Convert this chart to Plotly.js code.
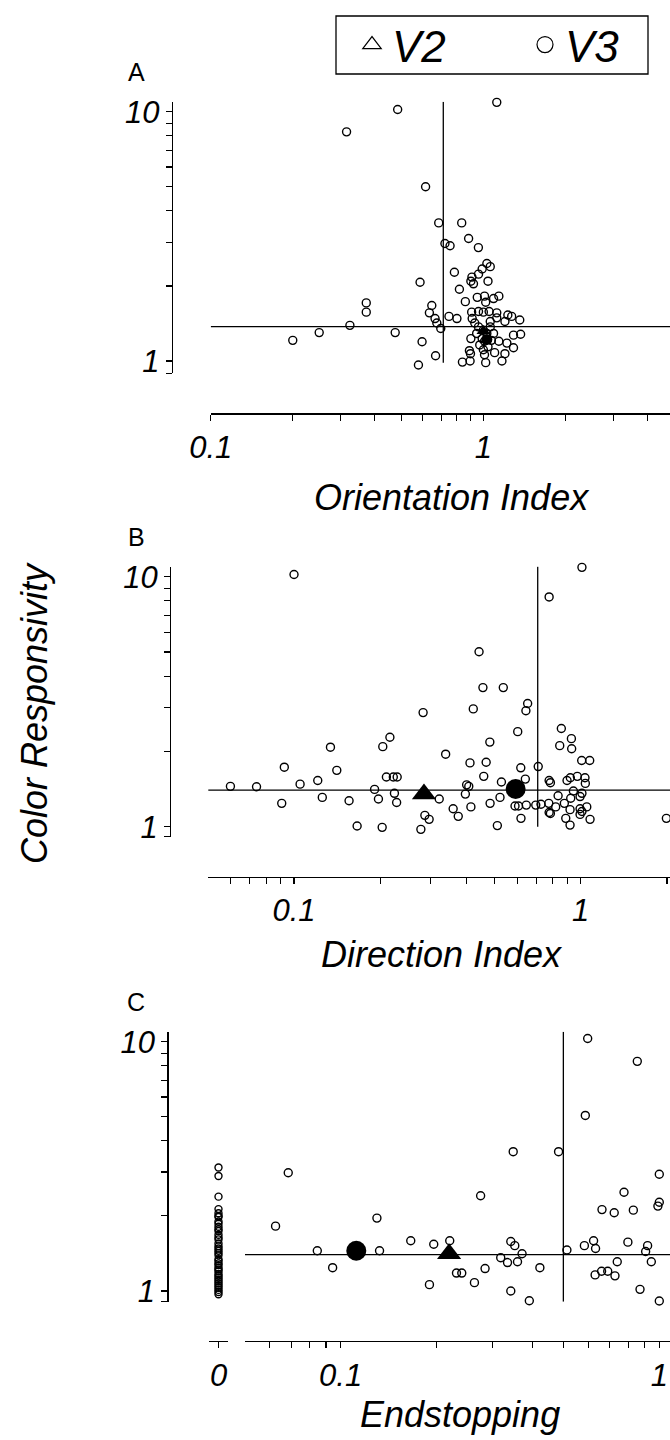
<!DOCTYPE html>
<html><head><meta charset="utf-8">
<script src="https://cdn.plot.ly/plotly-3.0.1.min.js"></script>
<style>html,body{margin:0;padding:0;background:#fff;overflow:hidden}#chart{width:670px;height:1440px}</style>
</head><body><div id="chart"></div>
<script>
// ---------- Panel A: Orientation Index vs Color Responsivity ----------
const aX = [1.12,0.485,0.315,0.614,0.686,0.833,0.883,0.723,0.755,0.959,
  1.03,1.06,0.99,0.96,0.783,0.908,0.90,0.92,1.04,0.586,
  0.817,0.859,0.95,1.01,1.02,1.09,1.14,0.372,0.372,0.647,
  0.634,0.665,0.675,0.698,0.748,0.80,0.324,0.25,0.2,0.475,
  0.596,0.668,0.578,0.906,0.96,1.0,1.05,1.12,1.12,1.23,
  1.27,1.36,0.91,1.2,0.90,1.29,1.37,1.22,1.29,1.2,
  1.17,1.10,0.889,0.897,0.838,0.894,0.881,1.04,1.02,1.01,
  0.96,1.0,1.03,0.99,1.01,0.97,1.04,0.945,1.06,1.07,
  1.0,1.09,1.14,0.93,1.06];
const aY = [10.9,10.2,8.3,5.0,3.58,3.58,3.1,2.96,2.90,2.85,
  2.46,2.39,2.34,2.23,2.27,2.17,2.09,2.04,2.09,2.07,
  1.94,1.73,1.80,1.82,1.72,1.78,1.82,1.71,1.57,1.67,
  1.56,1.48,1.42,1.35,1.51,1.48,1.39,1.30,1.21,1.30,
  1.195,1.05,0.964,1.57,1.58,1.57,1.58,1.56,1.49,1.53,
  1.51,1.46,1.48,1.44,1.23,1.27,1.28,1.18,1.13,1.07,
  1.0,1.08,1.10,1.07,0.99,1.0,0.892,0.892,0.985,1.06,
  1.37,1.33,1.29,1.23,1.20,1.16,1.14,1.29,1.37,1.21,
  1.11,1.29,1.2,1.42,1.44];

// ---------- Panel B: Direction Index ----------
const bX = [0.1,1.01,0.776,0.442,0.456,0.537,0.653,0.644,0.422,0.282,
  0.603,0.856,0.928,0.845,0.93,0.482,0.216,0.204,0.134,0.338,
  1.008,1.075,0.411,0.468,0.618,0.711,0.0925,0.141,0.459,0.21,
  0.222,0.229,0.121,0.105,0.529,0.641,0.776,0.784,0.896,0.92,
  0.973,1.035,1.038,0.060,0.074,0.40,0.407,0.191,0.943,0.0906,
  0.1255,0.1556,0.197,0.224,0.228,0.321,0.396,0.523,0.483,0.414,
  0.359,0.374,0.286,0.296,0.277,0.166,0.203,0.512,0.619,0.59,
  0.607,0.646,0.697,0.727,0.774,0.818,0.776,0.784,0.834,0.877,
  0.923,0.995,1.01,0.918,0.887,0.918,0.995,1.01,1.05,1.078,
  0.995,1.99,0.598,0.619];
const bY = [10.2,10.9,8.3,5.01,3.6,3.6,3.11,2.91,2.96,2.86,
  2.40,2.47,2.25,2.11,2.05,2.18,2.28,2.09,2.08,1.95,
  1.84,1.84,1.80,1.81,1.72,1.74,1.73,1.68,1.59,1.58,
  1.58,1.58,1.53,1.48,1.51,1.55,1.53,1.50,1.53,1.57,
  1.59,1.57,1.49,1.45,1.445,1.47,1.45,1.41,1.39,1.24,
  1.31,1.27,1.29,1.36,1.25,1.29,1.35,1.31,1.24,1.20,
  1.18,1.10,1.11,1.07,0.976,1.006,0.994,1.01,1.08,1.21,
  1.21,1.22,1.22,1.23,1.24,1.20,1.14,1.13,1.33,1.24,
  1.30,1.32,1.36,1.17,1.08,1.015,1.18,1.15,1.20,1.07,
  1.12,1.08,0.906,0.906];

// ---------- Panel C: Endstopping ----------
const cX = [0.0685,0.0625,0.0845,0.0944,0.130,0.1325,0.166,0.196,0.22,0.19,
  0.231,0.24,0.263,0.284,0.275,0.348,0.483,0.318,0.334,0.342,
  0.352,0.359,0.371,0.422,0.342,0.391,0.513,0.596,0.586,0.853,
  1.0,0.775,0.661,0.722,0.829,1.0,0.99,0.582,0.622,0.631,
  0.797,0.919,0.906,0.944,0.738,0.629,0.659,0.689,0.726,0.87,
  1.0];
const cY = [2.98,1.82,1.45,1.24,1.96,1.45,1.59,1.54,1.59,1.06,
  1.18,1.18,1.08,1.23,2.41,3.62,3.62,1.36,1.30,1.58,
  1.52,1.31,1.41,1.24,1.0,0.914,1.46,10.3,5.06,8.34,
  2.94,2.49,2.12,2.06,2.11,2.27,2.19,1.52,1.59,1.48,
  1.57,1.52,1.44,1.31,1.31,1.16,1.20,1.20,1.15,1.015,
  0.912];
// cells with endstopping = 0
const cZeroX = [0,0,0,0,0,0,0,0,0,0, 0,0,0,0,0,0,0,0,0,0, 0,0,0,0,0,0,0,0,0,0, 0,0,0,0,0,0,0,0,0,0];
const cZeroY = [11.0,3.13,2.89,2.39,2.13,2.05,2.0,1.98,1.90,1.86,
  1.81,1.77,1.74,1.68,1.64,1.61,1.55,1.51,1.48,1.45,
  1.42,1.39,1.34,1.32,1.29,1.27,1.24,1.22,1.20,1.17,
  1.15,1.13,1.11,1.09,1.07,1.05,1.03,1.01,0.99,0.97];

// ---------- population medians (panels A, B, C) ----------
const medV2X = [1.0, 0.284, 0.219];
const medV2Y = [1.32, 1.35, 1.41];
const medV3X = [1.03, 0.593, 0.112];
const medV3Y = [1.22, 1.415, 1.45];

// ---------- median cross-hair lines (panels A, B, C) ----------
const hLineY = [1.373, 1.40, 1.40];
const hLineX0 = [0.1, 0.05, 0.05];
const vLineX = [0.713, 0.708, 0.5];
const vLineY0 = [0.985, 1.0, 0.906];
const vLineY1 = [10.96, 11.0, 10.96];

// ---------- tick values / labels ----------
const yTickValsA = [0.893,1,2,3,4,5,6,7,8,9,10];
const yTickValsB = [0.912,1,2,3,4,5,6,7,8,9,10];
const yTickValsC = [0.906,1,2,3,4,5,6,7,8,9,10];
const yTickText = ['','1','','','','','','','','','10'];
const xTickValsA = [0.1,0.2,0.3,0.4,0.5,0.6,0.7,0.8,0.9,1,2,3,4];
const xTickTextA = ['0.1','','','','','','','','','1','','',''];
const xTickValsB = [0.06,0.07,0.08,0.09,0.1,0.2,0.3,0.4,0.5,0.6,0.7,0.8,0.9,1,2];
const xTickTextB = ['','','','','0.1','','','','','','','','','1',''];
const xTickValsC = [0.06,0.07,0.08,0.09,0.1,0.2,0.3,0.4,0.5,0.6,0.7,0.8,0.9,1];
const xTickTextC = ['','','','','0.1','','','','','','','','','1'];

const F = 'Liberation Sans, Arial, Helvetica, sans-serif';
const W = 670, H = 1440;
const px = v => v / W;
const py = v => 1 - v / H;

function pts(x, y, xa, ya, size) {
  return {type:'scatter', mode:'markers', x:x, y:y, xaxis:xa, yaxis:ya,
    marker:{symbol:'circle-open', size:size, color:'black', line:{width:1.4, color:'black'}},
    cliponaxis:false, showlegend:false, hoverinfo:'skip'};
}
function med(x, y, xa, ya, sym, size) {
  return {type:'scatter', mode:'markers', x:[x], y:[y], xaxis:xa, yaxis:ya,
    marker:{symbol:sym, size:size, color:'black', line:{width:0}},
    cliponaxis:false, showlegend:false, hoverinfo:'skip'};
}
function line(x, y, xa, ya) {
  return {type:'scatter', mode:'lines', x:x, y:y, xaxis:xa, yaxis:ya,
    line:{color:'black', width:1.3}, cliponaxis:false, showlegend:false, hoverinfo:'skip'};
}

const axesIds = [['x','y'],['x2','y2'],['x3','y3']];
const traces = [];
for (let i = 0; i < 3; i++) {
  const [xa, ya] = axesIds[i];
  traces.push(line([hLineX0[i], 100], [hLineY[i], hLineY[i]], xa, ya));
  traces.push(line([vLineX[i], vLineX[i]], [vLineY0[i], vLineY1[i]], xa, ya));
}
traces.push(pts(aX, aY, 'x', 'y', 8));
traces.push(pts(bX, bY, 'x2', 'y2', 8));
traces.push(pts(cX, cY, 'x3', 'y3', 8));
traces.push(pts(cZeroX, cZeroY, 'x4', 'y3', 7));
traces.push(med(medV2X[0], medV2Y[0], 'x', 'y', 'triangle-up', 12));
traces.push(med(medV3X[0], medV3Y[0], 'x', 'y', 'circle', 11));
traces.push(med(medV2X[1], medV2Y[1], 'x2', 'y2', 'triangle-up', 21));
traces.push(med(medV3X[1], medV3Y[1], 'x2', 'y2', 'circle', 20));
traces.push(med(medV2X[2], medV2Y[2], 'x3', 'y3', 'triangle-up', 21));
traces.push(med(medV3X[2], medV3Y[2], 'x3', 'y3', 'circle', 20));
// legend entries
traces.push({type:'scatter', mode:'markers', x:[null], y:[null], name:'V2', xaxis:'x', yaxis:'y',
  marker:{symbol:'triangle-up-open', size:16, color:'black', line:{width:1.2}}, showlegend:true});
traces.push({type:'scatter', mode:'markers', x:[null], y:[null], name:'V3', xaxis:'x', yaxis:'y',
  marker:{symbol:'circle-open', size:16, color:'black', line:{width:1.2}}, showlegend:true});

const tickFont = {family:F, size:31, style:'italic', color:'black'};
function ax(extra) {
  return Object.assign({showline:true, linecolor:'black', linewidth:1.3, ticks:'outside',
    ticklen:6, tickwidth:1.1, tickcolor:'black', showgrid:false, zeroline:false,
    tickfont:tickFont, anchor:'free', fixedrange:true, tickmode:'array'}, extra);
}
function ann(text, x, y, size, italic, angle) {
  const a = {text:text, x:px(x), y:py(y), xref:'paper', yref:'paper', showarrow:false,
    xanchor:'center', yanchor:'middle',
    font:{family:F, size:size, style: italic ? 'italic' : 'normal', color:'black'}};
  if (angle) a.textangle = angle;
  return a;
}

const layout = {
  width:W, height:H, margin:{l:0, r:0, t:0, b:0, autoexpand:false},
  paper_bgcolor:'white', plot_bgcolor:'rgba(0,0,0,0)',
  font:{family:F, color:'black'},
  showlegend:true,
  legend:{orientation:'h', x:px(352), xanchor:'left', y:py(45), yanchor:'middle',
    font:{family:F, size:44, style:'italic', color:'black'}, bgcolor:'rgba(0,0,0,0)',
    borderwidth:0, entrywidth:128, entrywidthmode:'pixels', itemsizing:'trace', traceorder:'normal'},
  xaxis: ax({type:'log', range:[-1, 0.6846], domain:[px(210.7), 1], position:py(413.3),
    tickvals:xTickValsA, ticktext:xTickTextA}),
  yaxis: ax({type:'log', range:[-0.0493, 1.040], domain:[py(373.3), py(101.7)], position:px(171.7),
    tickvals:yTickValsA, ticktext:yTickText}),
  xaxis2: ax({type:'log', range:[-1.299, 0.3115], domain:[px(208.3), 1], position:py(876.7),
    tickvals:xTickValsB, ticktext:xTickTextB}),
  yaxis2: ax({type:'log', range:[-0.04, 1.04], domain:[py(836.7), py(566.7)], position:px(170),
    tickvals:yTickValsB, ticktext:yTickText}),
  xaxis3: ax({type:'log', range:[-1.3, 0.0336], domain:[px(245), 1], position:py(1341),
    tickvals:xTickValsC, ticktext:xTickTextC}),
  xaxis4: ax({type:'linear', range:[-0.5, 0.5], domain:[px(209), px(228)], position:py(1341),
    tickvals:[0], ticktext:['0']}),
  yaxis3: ax({type:'log', range:[-0.043, 1.040], domain:[py(1301.7), py(1031.7)], position:px(167.3),
    tickvals:yTickValsC, ticktext:yTickText}),
  shapes:[
    {type:'rect', xref:'paper', yref:'paper', x0:px(336), x1:px(648), y0:py(74), y1:py(16),
      line:{color:'black', width:1.3}, fillcolor:'rgba(0,0,0,0)'}
  ],
  annotations:[
    ann('A', 136, 72.5, 25, false),
    ann('B', 136, 537, 25, false),
    ann('C', 136, 1002, 25, false),
    ann('Orientation Index', 452, 497, 36, true),
    ann('Direction Index', 442, 954, 36, true),
    ann('Endstopping', 460, 1414, 36, true),
    ann('Color Responsivity', 34, 713, 36, true, -90)
  ]
};

Plotly.newPlot('chart', traces, layout, {staticPlot:true, displayModeBar:false});
</script></body></html>
